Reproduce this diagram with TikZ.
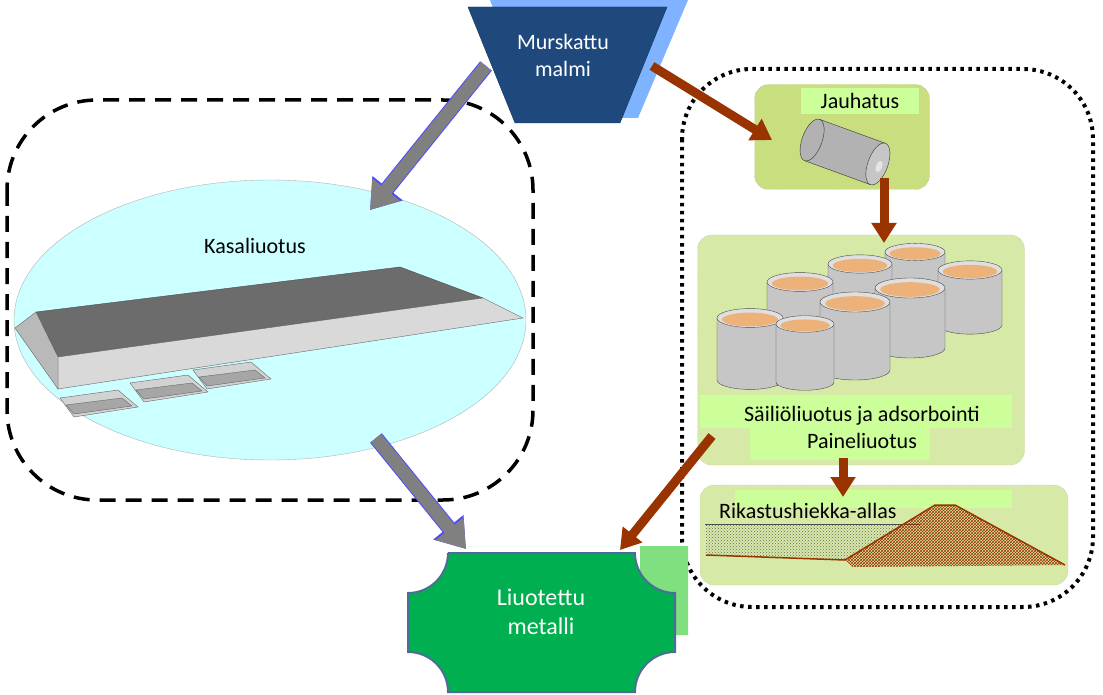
\documentclass[tikz,border=0pt]{standalone}
\usepackage{fontspec}
\setmainfont{Carlito}
\usetikzlibrary{arrows.meta,patterns,positioning,shapes.geometric}
\definecolor{oreblue}{HTML}{1F497D}
\definecolor{oreshadow}{HTML}{7FB2FF}
\definecolor{heapcyan}{HTML}{CCFFFF}
\definecolor{stepgreen}{HTML}{C9DE7E}
\definecolor{tankgreen}{HTML}{D7E9A6}
\definecolor{labelgreen}{HTML}{CCFF99}
\definecolor{metalgreen}{HTML}{00B050}
\definecolor{metalshadow}{HTML}{80E080}
\definecolor{rust}{HTML}{993300}
\tikzset{
  rustarrow/.style={draw=rust, line width=9pt, -{Triangle[width=24pt,length=20pt]}},
  grayarrow/.style={draw=gray, line width=13pt, -{Triangle[width=34pt,length=26pt]}},
  blueedge/.style={draw=blue!70, line width=15pt, -{Triangle[width=37pt,length=28pt]}},
  stepbox/.style={draw=gray!70, densely dotted, rounded corners=14pt},
  bigtext/.style={font=\fontsize{22}{27}\selectfont},
  steplabel/.style={fill=labelgreen, bigtext},
  tank/.style={fill=gray!45, draw=gray!60!black},
}
\begin{document}
\begin{tikzpicture}[x=1pt,y=-1pt]
  \useasboundingbox (0,0) rectangle (1103,695);

  % heap leaching group
  \draw[line width=3.5pt, dash pattern=on 16pt off 10pt, rounded corners=90pt] (7,100) rectangle (533,500);
  \node[ellipse, fill=heapcyan, draw=gray!60, minimum width=512pt, minimum height=280pt, inner sep=0pt] (kasa) at (270,320) {};
  \node[bigtext] (kasalabel) at (255,246) {Kasaliuotus};
  % heap
  \fill[gray!85!black, draw=black!70] (36,312) -- (400,267) -- (483,298) -- (58,357) -- cycle;
  \fill[gray!30, draw=black!60] (58,357) -- (483,298) -- (523,318) -- (58,389) -- cycle;
  \fill[gray!55, draw=black!60] (15,328) -- (36,312) -- (58,357) -- (58,389) -- cycle;
  \foreach \tx/\ty in {60/398, 130/383, 193/370} {
    \fill[gray!35, draw=black!60] (\tx,\ty) -- (\tx+58,\ty-8) -- (\tx+78,\ty+9) -- (\tx+14,\ty+19) -- cycle;
    \fill[gray!70, draw=black!60] (\tx+6,\ty+7) -- (\tx+62,\ty) -- (\tx+72,\ty+8) -- (\tx+14,\ty+16) -- cycle;
  }

  % tank leaching group
  \draw[line width=4pt, dash pattern=on 3.5pt off 4.5pt, rounded corners=70pt] (682,69) rectangle (1093,607);

  \node[stepbox, fill=stepgreen, minimum width=175pt, minimum height=105pt] (jauhatus) at (842,137) {};
  \node[steplabel, minimum width=118pt, minimum height=26pt, inner sep=1pt] (jauhatuslabel) at (860,101) {Jauhatus};
  % mill
  \begin{scope}[rotate around={-20:(845,152)}]
    \fill[gray!60, draw=gray!40!black] (810,130) rectangle (880,174);
    \fill[gray!45, draw=gray!40!black] (880,152) ellipse (10pt and 22pt);
    \fill[gray!20] (882,154) ellipse (3pt and 6pt);
    \fill[gray!60, draw=gray!40!black] (810,152) ellipse (10pt and 22pt);
  \end{scope}

  \node[stepbox, fill=tankgreen, minimum width=327pt, minimum height=230pt] (tanks) at (861,350) {};
  \foreach \cx/\cy/\r/\h in {915/252/30/62, 860/264/32/66, 970/270/32/55, 800/282/33/72, 910/288/35/60, 855/302/35/68, 750/318/33/62, 805/324/29/58} {
    \fill[tank] (\cx-\r,\cy) -- (\cx-\r,\cy+\h) arc[start angle=180, end angle=0, x radius=\r, y radius=\r/3.5] -- (\cx+\r,\cy) -- cycle;
    \fill[gray!25, draw=gray!60!black] (\cx,\cy) ellipse ({\r} and {\r/3.5});
    \fill[orange!50!brown!60] (\cx,\cy+1.5) ellipse ({\r*0.85} and {\r/4.8});
  }
  \fill[labelgreen] (700,395) rectangle (1012,428);
  \fill[labelgreen] (750,428) rectangle (930,460);
  \node[bigtext, align=center] (tankslabel) at (862,427) {Säiliöliuotus ja adsorbointi\\Paineliuotus};

  \node[stepbox, fill=tankgreen, minimum width=368pt, minimum height=100pt] (allas) at (884,535) {};
  \fill[labelgreen] (735,490) rectangle (1012,508);
  \node[bigtext, anchor=west, inner sep=0pt] (allaslabel) at (719,511) {Rikastushiekka-allas};
  \draw[black!70] (705,524) -- (920,524);
  \fill[pattern=crosshatch dots, pattern color=black!60] (706,525) -- (918,525) -- (845,560) -- (706,555) -- cycle;
  \draw[rust, line width=1.5pt] (706,555) -- (845,560);
  \fill[pattern=crosshatch, pattern color=rust] (845,560) -- (935,505) -- (955,505) -- (1065,565) -- (853,567) -- cycle;
  \draw[rust, line width=1.5pt] (845,560) -- (935,505) -- (955,505) -- (1065,565);

  % ore
  \fill[oreshadow] (490,0) -- (688,0) -- (638,118) -- (535,118) -- cycle;
  \fill[oreblue, draw=oreblue!70!black] (468,7) -- (667,7) -- (620,123) -- (515,123) -- cycle;
  \node[text=white, bigtext, align=center] (ore) at (563,55) {Murskattu\\malmi};

  % dissolved metal
  \fill[metalshadow] (460,546) -- (688,546) -- (688,635) -- (660,635) -- (660,546) -- cycle;
  \fill[metalshadow] (640,546) rectangle (688,635);
  \fill[metalgreen, draw=oreblue!80, line width=2pt]
    (448,553) -- (635,553) arc[start angle=180, end angle=270, radius=40pt] -- (675,652)
    arc[start angle=90, end angle=180, radius=40pt] -- (448,692)
    arc[start angle=0, end angle=90, radius=40pt] -- (408,593)
    arc[start angle=270, end angle=360, radius=40pt];
  \node[text=white, font=\fontsize{24}{29}\selectfont, align=center] (metal) at (541,612) {Liuotettu\\metalli};

  % connectors
  \coordinate (oreleft) at (486,66);
  \coordinate (oreright) at (652,66);
  \coordinate (heapin) at (370,210);
  \coordinate (heapout) at (376,438);
  \coordinate (metalin) at (466,549);
  \coordinate (metalright) at (620,550);
  \coordinate (jauhin) at (772,140);
  \coordinate (jauhout) at (884,178);
  \coordinate (tanksin) at (884,243);
  \coordinate (tanksout) at (843,458);
  \coordinate (allasin) at (843,497);
  \coordinate (tanksleft) at (712,436);
  \draw[blueedge] (oreleft) -- (heapin);
  \draw[grayarrow] (oreleft) -- (heapin);
  \draw[blueedge] (heapout) -- (metalin);
  \draw[grayarrow] (heapout) -- (metalin);
  \draw[rustarrow] (oreright) -- (jauhin);
  \draw[rustarrow] (jauhout) -- (tanksin);
  \draw[rustarrow] (tanksout) -- (allasin);
  \draw[rustarrow] (tanksleft) -- (metalright);
\end{tikzpicture}
\end{document}
